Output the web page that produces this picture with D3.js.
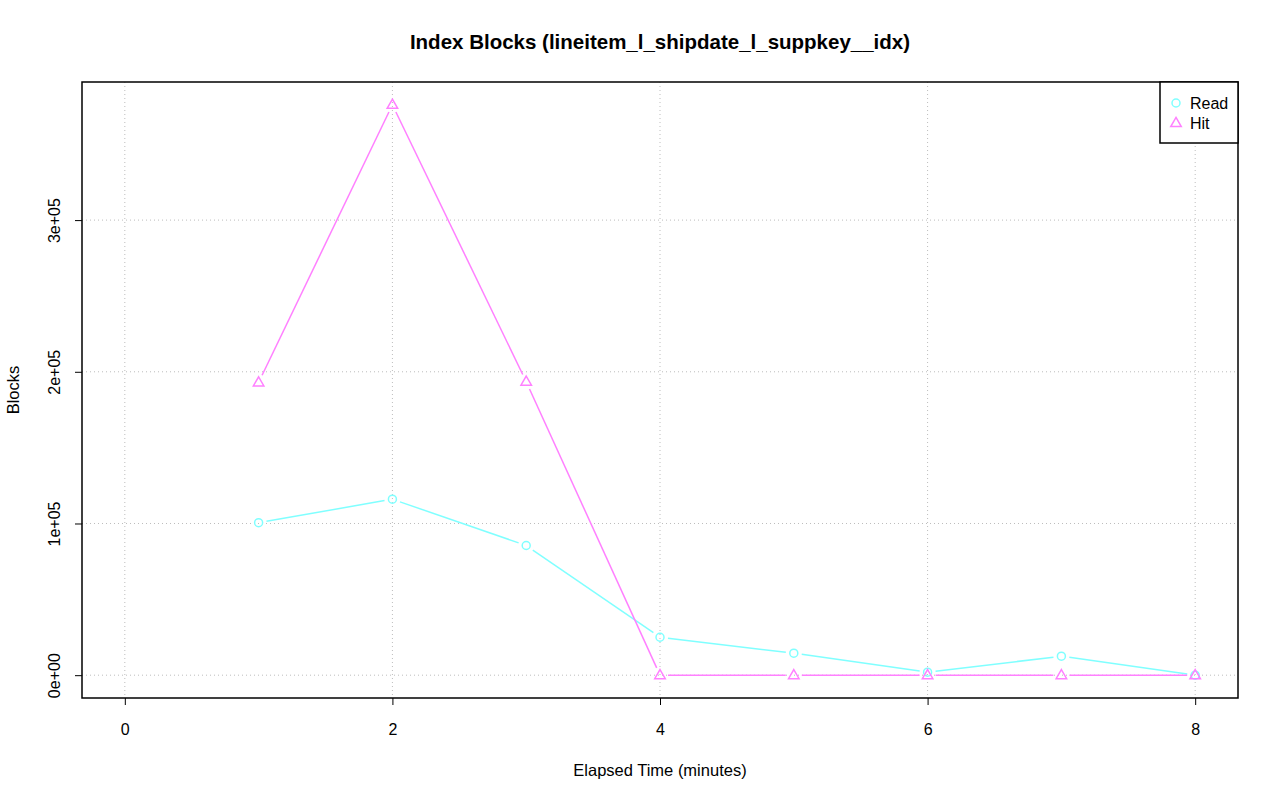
<!DOCTYPE html>
<head>
<meta charset="utf-8">
<style>
  body { margin:0; background:#fff; }
  text { font-family: "Liberation Sans", Arial, sans-serif; fill:#000; }
  .grid line { stroke:#bdbdbd; stroke-dasharray:1,3; stroke-width:1; }
  .tick text { font-size:16px; }
</style>
</head>
<body>
<script src="https://cdn.jsdelivr.net/npm/d3@7/dist/d3.min.js"></script>
<script>

var width = 1280,
    height = 801;

// values
var minutes = [1, 2, 3, 4, 5, 6, 7, 8];
var readBlocks = [100500, 116000, 85500, 25000, 14500, 2000, 12500, 0];
var hitBlocks  = [193000, 376000, 193500, 0, 0, 0, 0, 0];
var xTicks = [0, 2, 4, 6, 8];
var yTicks = [0, 100000, 200000, 300000];
var yTickLabels = ["0e+00", "1e+05", "2e+05", "3e+05"];

var series = [
  {name: "Read", values: readBlocks, color: "#80ffff", shape: "circle"},
  {name: "Hit",  values: hitBlocks,  color: "#ff80ff", shape: "triangle"}
];

var box = {left: 82, right: 1238, top: 82, bottom: 698};

// R style 4% padding
var x = d3.scaleLinear().domain([-0.32, 8.32]).range([box.left, box.right]);
var yMax = 376000, pad = yMax * 0.04;
var y = d3.scaleLinear().domain([-pad, yMax + pad]).range([box.bottom, box.top]);

var svg = d3.select("body").append("svg")
    .attr("width", width)
    .attr("height", height);

// grid
var grid = svg.append("g").attr("class", "grid");
grid.selectAll(".gx").data(xTicks).enter().append("line")
    .attr("x1", d => x(d)).attr("x2", d => x(d))
    .attr("y1", box.top).attr("y2", box.bottom);
grid.selectAll(".gy").data(yTicks).enter().append("line")
    .attr("x1", box.left).attr("x2", box.right)
    .attr("y1", d => y(d)).attr("y2", d => y(d));

// axes
var xAxis = d3.axisBottom(x).tickValues(xTicks).tickSize(7).tickPadding(19);
var yAxis = d3.axisLeft(y).tickValues(yTicks).tickSize(7)
    .tickFormat((d, i) => yTickLabels[i]);

var gx = svg.append("g").attr("transform", "translate(0," + box.bottom + ")").call(xAxis)
    .attr("font-family", "Liberation Sans, Arial, sans-serif");
gx.select(".domain").remove();
gx.selectAll("line").attr("stroke", "#000");

var gy = svg.append("g").attr("transform", "translate(" + box.left + ",0)").call(yAxis)
    .attr("font-family", "Liberation Sans, Arial, sans-serif");
gy.select(".domain").remove();
gy.selectAll("line").attr("stroke", "#000");
gy.selectAll("text")
    .attr("text-anchor", "middle")
    .attr("x", 0).attr("dy", 0)
    .attr("transform", "translate(-27,0) rotate(-90)")
    .attr("y", 5);

// plot box
svg.append("rect")
    .attr("x", box.left).attr("y", box.top)
    .attr("width", box.right - box.left).attr("height", box.bottom - box.top)
    .attr("fill", "none").attr("stroke", "#000").attr("stroke-width", 1.5);

// lines with gaps around points (type = "b")
var gap = 8;
var triangle = d3.symbol().type(d3.symbolTriangle).size(48);

series.forEach(function(s) {
  var pts = minutes.map((m, i) => [x(m), y(s.values[i])]);
  var segs = d3.pairs(pts).map(function(p) {
    var dx = p[1][0] - p[0][0], dy = p[1][1] - p[0][1];
    var len = Math.sqrt(dx * dx + dy * dy);
    if (len <= 2 * gap) return null;
    var ux = dx / len, uy = dy / len;
    return [p[0][0] + ux * gap, p[0][1] + uy * gap, p[1][0] - ux * gap, p[1][1] - uy * gap];
  }).filter(d => d);

  var g = svg.append("g");
  g.selectAll("line").data(segs).enter().append("line")
      .attr("x1", d => d[0]).attr("y1", d => d[1])
      .attr("x2", d => d[2]).attr("y2", d => d[3])
      .attr("stroke", s.color).attr("stroke-width", 1.5);

  if (s.shape === "circle") {
    g.selectAll("circle").data(pts).enter().append("circle")
        .attr("cx", d => d[0]).attr("cy", d => d[1]).attr("r", 4)
        .attr("fill", "none").attr("stroke", s.color).attr("stroke-width", 1.5);
  } else {
    g.selectAll("path").data(pts).enter().append("path")
        .attr("d", triangle)
        .attr("transform", d => "translate(" + d[0] + "," + (d[1] + 0.5) + ")")
        .attr("fill", "none").attr("stroke", s.color).attr("stroke-width", 1.5);
  }
});

// legend
var legend = svg.append("g");
legend.append("rect")
    .attr("x", 1160).attr("y", box.top)
    .attr("width", box.right - 1160).attr("height", 61)
    .attr("fill", "#fff").attr("stroke", "#000").attr("stroke-width", 1.5);
series.forEach(function(s, i) {
  var ly = 103 + i * 20;
  if (s.shape === "circle") {
    legend.append("circle").attr("cx", 1176).attr("cy", ly).attr("r", 4)
        .attr("fill", "none").attr("stroke", s.color).attr("stroke-width", 1.5);
  } else {
    legend.append("path").attr("d", triangle)
        .attr("transform", "translate(1176," + (ly + 0.5) + ")")
        .attr("fill", "none").attr("stroke", s.color).attr("stroke-width", 1.5);
  }
  legend.append("text").attr("x", 1190).attr("y", ly + 5.5)
      .attr("font-size", 16).text(s.name);
});

// titles
svg.append("text")
    .attr("x", (box.left + box.right) / 2).attr("y", 49)
    .attr("text-anchor", "middle")
    .attr("font-size", 20.5).attr("font-weight", "bold")
    .text("Index Blocks (lineitem_l_shipdate_l_suppkey__idx)");

svg.append("text")
    .attr("x", (box.left + box.right) / 2).attr("y", 776)
    .attr("text-anchor", "middle")
    .attr("font-size", 16.5)
    .text("Elapsed Time (minutes)");

svg.append("text")
    .attr("transform", "translate(19," + ((box.top + box.bottom) / 2) + ") rotate(-90)")
    .attr("text-anchor", "middle")
    .attr("font-size", 16.5)
    .text("Blocks");

</script>
</body>
